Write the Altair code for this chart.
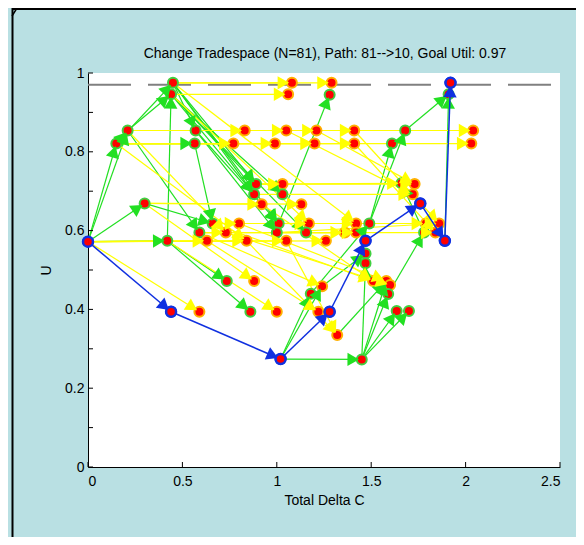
import math
import altair as alt
import pandas as pd

TITLE = "Change Tradespace (N=81), Path: 81-->10, Goal Util: 0.97"
GOAL_UTIL = 0.97
X_TICKS = [0, 0.5, 1, 1.5, 2, 2.5]
Y_TICKS = [0, 0.1, 0.2, 0.3, 0.4, 0.5, 0.6, 0.7, 0.8, 0.9, 1.0]

# design points: total delta C, utility, edge kind (b = path, g = reached by green arc, o = by yellow arc)
pt_x = [0.00, 0.45, 1.08, 1.29, 1.92, 0.44, 1.06, 1.28, 1.91, 0.21,
        0.57, 0.83, 1.05, 1.21, 1.41, 1.68, 2.04, 0.15, 0.565, 0.77,
        0.99, 1.20, 1.41, 1.61, 2.03, 0.89, 1.03, 1.66, 1.73, 0.88,
        1.03, 1.72, 0.30, 0.92, 1.13, 0.66, 0.80, 1.01, 1.17, 1.42,
        1.49, 1.79, 1.86, 0.59, 0.73, 1.00, 1.155, 1.36, 1.42, 1.78,
        1.84, 0.42, 0.63, 0.84, 1.05, 1.26, 1.47, 1.89, 1.76, 1.47,
        1.47, 0.735, 0.88, 1.51, 1.58, 1.60, 1.24, 1.18, 1.59, 0.44,
        0.59, 0.86, 1.00, 1.22, 1.28, 1.635, 1.70, 1.32, 1.02, 1.45]
pt_y = [0.572, 0.975, 0.975, 0.975, 0.975, 0.946, 0.946, 0.945, 0.946, 0.854,
        0.854, 0.854, 0.854, 0.854, 0.854, 0.854, 0.854, 0.821, 0.821, 0.821,
        0.821, 0.821, 0.821, 0.821, 0.821, 0.718, 0.718, 0.720, 0.718, 0.692,
        0.692, 0.692, 0.669, 0.667, 0.667, 0.618, 0.618, 0.618, 0.618, 0.618,
        0.618, 0.618, 0.618, 0.595, 0.595, 0.595, 0.595, 0.595, 0.595, 0.595,
        0.595, 0.574, 0.574, 0.574, 0.574, 0.574, 0.574, 0.574, 0.669, 0.542,
        0.517, 0.472, 0.472, 0.472, 0.472, 0.462, 0.459, 0.440, 0.439, 0.394,
        0.394, 0.394, 0.394, 0.394, 0.394, 0.396, 0.396, 0.335, 0.274, 0.273]
pt_kind = ["b", "g", "o", "o", "b", "g", "o", "g", "g", "g",
           "g", "o", "o", "o", "o", "g", "o", "g", "g", "o",
           "o", "o", "o", "g", "o", "g", "o", "g", "o", "g",
           "g", "o", "g", "o", "o", "g", "o", "g", "o", "o",
           "g", "o", "o", "g", "o", "g", "g", "o", "o", "g",
           "o", "g", "o", "o", "o", "o", "b", "b", "b", "g",
           "g", "g", "o", "o", "o", "o", "o", "g", "g", "b",
           "o", "g", "o", "o", "b", "g", "g", "o", "b", "g"]

green_src = [0, 0, 0, 0, 17, 9, 51, 17, 1, 17, 1, 1, 5, 5, 5, 10, 1, 10, 18, 9, 32,
             51, 51, 37, 15, 57, 40, 40, 67, 66, 68, 78, 78, 78, 79, 79, 79, 79, 79,
             77, 49, 5]
green_dst = [17, 9, 32, 51, 9, 5, 5, 1, 10, 18, 25, 29, 25, 29, 30, 37, 37, 45, 35, 43, 35,
             61, 71, 7, 8, 8, 23, 15, 40, 59, 49, 79, 67, 66, 68, 75, 76, 60, 64,
             64, 27, 46]

yellow_src = [1, 1, 5, 9, 9, 9, 9, 9, 17, 17, 17, 17, 17, 25, 25, 25, 29, 32, 32,
              35, 35, 37, 37, 43, 43, 43, 45, 45, 0, 0, 0, 0, 0, 32, 51, 52, 43,
              35, 44, 53, 1, 5, 9, 17, 12, 13, 33, 36, 14, 22, 54]
yellow_dst = [2, 3, 6, 11, 12, 13, 14, 16, 19, 20, 21, 22, 24, 26, 27, 28, 31, 33, 34,
              36, 39, 38, 41, 44, 47, 48, 50, 42, 52, 53, 54, 55, 70, 62, 72, 73, 66,
              63, 65, 77, 39, 38, 44, 53, 31, 28, 63, 64, 42, 50, 77]

blue_path = [0, 69, 78, 74, 56, 58, 57, 4]

W, H = 472, 394
X_MAX, Y_MAX = 2.5, 1.0
SX, SY = W / X_MAX, H / Y_MAX
HEAD_BACK = 8.5

GREEN = "#22e022"
YELLOW = "#ffff00"
BLUE = "#1030e0"

segs = []
heads = []


def add_edge(a, b, color, order):
    x1, y1, x2, y2 = pt_x[a], pt_y[a], pt_x[b], pt_y[b]
    segs.append({"x": x1, "y": y1, "x2": x2, "y2": y2, "color": color, "order": order})
    dxp = (x2 - x1) * SX
    dyp = -(y2 - y1) * SY
    L = math.hypot(dxp, dyp) or 1.0
    ux, uy = dxp / L, dyp / L
    heads.append({
        "x": x2 - HEAD_BACK * ux / SX,
        "y": y2 + HEAD_BACK * uy / SY,
        "angle": math.degrees(math.atan2(dyp, dxp)) % 360,
        "color": color,
        "order": order,
    })


for s, d in zip(green_src, green_dst):
    add_edge(s, d, GREEN, 0)
for s, d in zip(yellow_src, yellow_dst):
    add_edge(s, d, YELLOW, 1)
for s, d in zip(blue_path[:-1], blue_path[1:]):
    add_edge(s, d, BLUE, 2)

seg_df = pd.DataFrame(segs)
head_df = pd.DataFrame(heads)
pts_df = pd.DataFrame({"x": pt_x, "y": pt_y, "kind": pt_kind})

xs = alt.Scale(domain=[0, X_MAX], nice=False, zero=False)
ys = alt.Scale(domain=[0, Y_MAX], nice=False, zero=False)
FONT = "Liberation Sans"

x_axis = alt.Axis(values=X_TICKS, format="~g", title="Total Delta C", ticks=False, grid=False,
                  labelPadding=7, titlePadding=5)
y_axis = alt.Axis(values=Y_TICKS, format="~g", title="U", ticks=False, grid=False,
                  labelPadding=4, titlePadding=11)

goal = alt.Chart(pd.DataFrame({"g": [GOAL_UTIL]})).mark_rule(
    color="#808080", strokeWidth=2, strokeDash=[43, 17]
).encode(
    y=alt.Y("g:Q", scale=ys, axis=y_axis),
    x=alt.value(0), x2=alt.value(W),
)

lines_gy = alt.Chart(seg_df[seg_df["order"] < 2]).mark_rule(strokeWidth=1.2).encode(
    x=alt.X("x:Q", scale=xs, axis=x_axis), y=alt.Y("y:Q", scale=ys, axis=y_axis),
    x2="x2:Q", y2="y2:Q",
    color=alt.Color("color:N", scale=None),
)

points = alt.Chart(pts_df).mark_point(shape="circle", size=100, strokeWidth=2, opacity=1).encode(
    x=alt.X("x:Q", scale=xs), y=alt.Y("y:Q", scale=ys),
    fill=alt.value("#ff0000"),
    stroke=alt.Stroke("kind:N", scale=alt.Scale(domain=["b", "g", "o"],
                                                range=[BLUE, "#40d040", "#ffb000"]), legend=None),
)

heads_gy = alt.Chart(head_df[head_df["order"] < 2]).mark_point(
    shape="triangle-right", filled=True, size=180, opacity=1
).encode(
    x=alt.X("x:Q", scale=xs), y=alt.Y("y:Q", scale=ys),
    angle=alt.Angle("angle:Q", scale=None),
    color=alt.Color("color:N", scale=None),
)

lines_b = alt.Chart(seg_df[seg_df["order"] == 2]).mark_rule(strokeWidth=1.5).encode(
    x=alt.X("x:Q", scale=xs), y=alt.Y("y:Q", scale=ys), x2="x2:Q", y2="y2:Q",
    color=alt.Color("color:N", scale=None),
)

heads_b = alt.Chart(head_df[head_df["order"] == 2]).mark_point(
    shape="triangle-right", filled=True, size=180, opacity=1
).encode(
    x=alt.X("x:Q", scale=xs), y=alt.Y("y:Q", scale=ys),
    angle=alt.Angle("angle:Q", scale=None),
    color=alt.Color("color:N", scale=None),
)

path_pts = alt.Chart(pts_df[pts_df["kind"] == "b"]).mark_point(
    shape="circle", size=100, strokeWidth=2.5, opacity=1
).encode(
    x=alt.X("x:Q", scale=xs), y=alt.Y("y:Q", scale=ys),
    fill=alt.value("#ff0000"), stroke=alt.value(BLUE),
)

xt = alt.Chart(pd.DataFrame({"t": X_TICKS})).mark_rule(color="black", strokeWidth=1).encode(
    x=alt.X("t:Q", scale=xs), y=alt.value(H), y2=alt.value(H - 5),
)
yt = alt.Chart(pd.DataFrame({"t": Y_TICKS})).mark_rule(color="black", strokeWidth=1).encode(
    y=alt.Y("t:Q", scale=ys), x=alt.value(0), x2=alt.value(5),
)

title_txt = alt.Chart(pd.DataFrame({"t": [TITLE]})).mark_text(
    font=FONT, fontSize=14, color="black", align="center", baseline="middle"
).encode(
    text="t:N", x=alt.value(W / 2 + 1), y=alt.value(-19),
)

one = pd.DataFrame({"a": [0]})
frame_left = alt.Chart(one).mark_rule(color="black", strokeWidth=2).encode(
    x=alt.value(-75.5), y=alt.value(-65), y2=alt.value(H + 80),
)
frame_top = alt.Chart(one).mark_rule(color="black", strokeWidth=2).encode(
    y=alt.value(-64), x=alt.value(-76), x2=alt.value(W + 30),
)
frame_slash = alt.Chart(one).mark_rule(color="black", strokeWidth=1.5).encode(
    x=alt.value(-76), y=alt.value(-57), x2=alt.value(-71), y2=alt.value(-65),
)

chart = alt.layer(
    goal, lines_gy, points, heads_gy, lines_b, heads_b, path_pts, xt, yt,
    title_txt, frame_left, frame_top, frame_slash
).properties(
    width=W, height=H,
    autosize=alt.AutoSizeParams(type="none"),
    padding={"left": 80, "top": 65, "right": 16, "bottom": 70},
    background="#b9e0e3",
).configure_view(
    stroke=None, fill="white",
).configure_axis(
    domainColor="black", domainWidth=1, labelColor="black", titleColor="black",
    labelFont=FONT, titleFont=FONT, labelFontSize=14, titleFontSize=14, titleFontWeight="normal",
)

chart.save("out.html", embed_options={"renderer": "svg", "actions": False})
